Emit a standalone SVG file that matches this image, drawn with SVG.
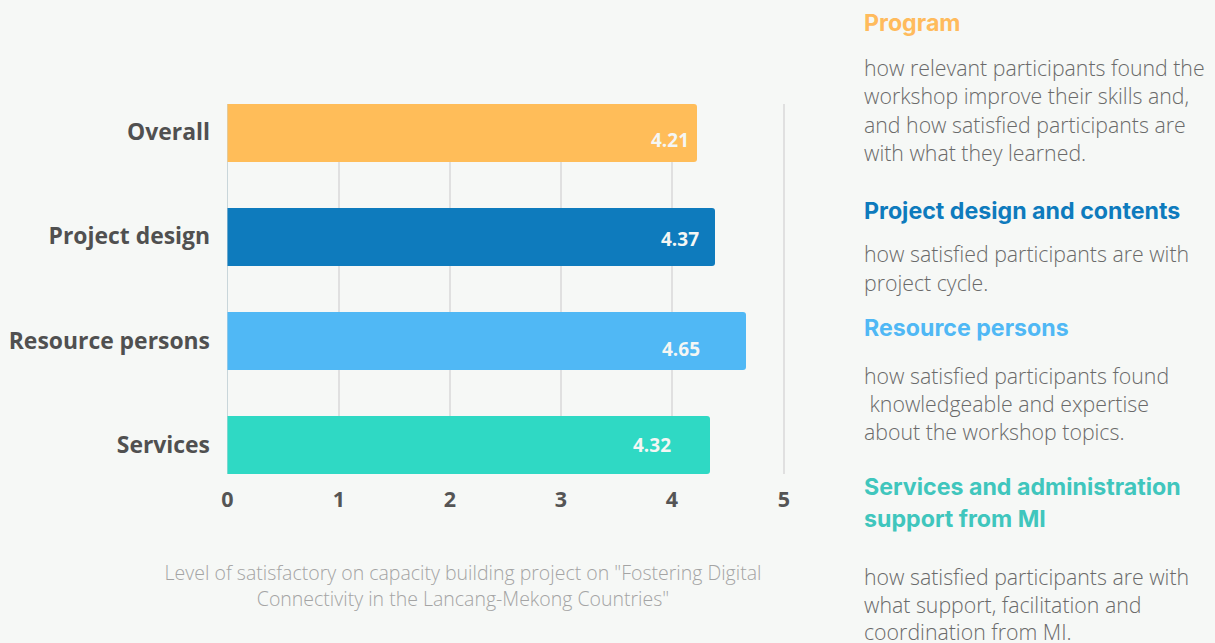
<svg xmlns="http://www.w3.org/2000/svg" width="1215" height="643" viewBox="0 0 1215 643">
<style>
.cat{font-family:"Open Sans","Liberation Sans",sans-serif;font-weight:700;font-size:22.9px;fill:#505050;text-anchor:end}
.tick{font-family:"Open Sans","Liberation Sans",sans-serif;font-weight:700;font-size:21.5px;fill:#555;text-anchor:middle}
.val{font-family:"Open Sans","Liberation Sans",sans-serif;font-weight:700;font-size:19px;fill:#f4f6f4;text-anchor:end}
.grid{stroke:#d9d9d9;stroke-width:1.5}
.head{font-family:Inter,"Liberation Sans",sans-serif;font-weight:700;font-size:23.2px}
.body{font-family:"Open Sans","Liberation Sans",sans-serif;font-weight:300;font-size:21.3px;fill:#6a6a6a}
.cap{font-family:"Open Sans","Liberation Sans",sans-serif;font-weight:300;font-size:19.5px;fill:#a4a4a4;text-anchor:middle}
</style>
<rect width="1215" height="643" fill="#f6f8f6"/>
<g id="grid">
<line class="grid" x1="339" y1="104" x2="339" y2="474"/>
<line class="grid" x1="450" y1="104" x2="450" y2="474"/>
<line class="grid" x1="561" y1="104" x2="561" y2="474"/>
<line class="grid" x1="672" y1="104" x2="672" y2="474"/>
<line class="grid" x1="784" y1="104" x2="784" y2="474"/>
<line x1="227.5" y1="104" x2="227.5" y2="474" stroke="#c9d6da" stroke-width="1"/>
</g>
<g id="bar-overall">
<path d="M227.5 104 H694 a3 3 0 0 1 3 3 V159 a3 3 0 0 1 -3 3 H227.5 Z" fill="#ffbd59"/>
<text class="cat" x="210" y="140">Overall</text>
<text class="val" x="689" y="147">4.21</text>
</g>
<g id="bar-project">
<path d="M227.5 208 H712 a3 3 0 0 1 3 3 V263 a3 3 0 0 1 -3 3 H227.5 Z" fill="#0e7bbd"/>
<text class="cat" x="210" y="244">Project design</text>
<text class="val" x="699" y="246">4.37</text>
</g>
<g id="bar-resource">
<path d="M227.5 312 H743 a3 3 0 0 1 3 3 V367 a3 3 0 0 1 -3 3 H227.5 Z" fill="#50b8f5"/>
<text class="cat" x="210" y="349">Resource persons</text>
<text class="val" x="700" y="356">4.65</text>
</g>
<g id="bar-services">
<path d="M227.5 416 H707 a3 3 0 0 1 3 3 V471 a3 3 0 0 1 -3 3 H227.5 Z" fill="#2fd9c4"/>
<text class="cat" x="210" y="453">Services</text>
<text class="val" x="671" y="452">4.32</text>
</g>
<g id="axis">
<text class="tick" x="227.5" y="507">0</text>
<text class="tick" x="339" y="507">1</text>
<text class="tick" x="450" y="507">2</text>
<text class="tick" x="561" y="507">3</text>
<text class="tick" x="672" y="507">4</text>
<text class="tick" x="784" y="507">5</text>
</g>
<g id="caption">
<text class="cap" x="463" y="580">Level of satisfactory on capacity building project on "Fostering Digital</text>
<text class="cap" x="463" y="606">Connectivity in the Lancang-Mekong Countries"</text>
</g>
<g id="legend-program">
<text class="head" x="864" y="31" fill="#ffbb5c">Program</text>
<text class="body" x="864" y="76">how relevant participants found the</text>
<text class="body" x="864" y="104">workshop improve their skills and,</text>
<text class="body" x="864" y="133">and how satisfied participants are</text>
<text class="body" x="864" y="161">with what they learned.</text>
</g>
<g id="legend-project">
<text class="head" x="864" y="219" fill="#0e7bbd">Project design and contents</text>
<text class="body" x="864" y="262">how satisfied participants are with</text>
<text class="body" x="864" y="291">project cycle.</text>
</g>
<g id="legend-resource">
<text class="head" x="864" y="336" fill="#50b8f5">Resource persons</text>
<text class="body" x="864" y="384">how satisfied participants found</text>
<text class="body" x="864" y="412" xml:space="preserve"> knowledgeable and expertise</text>
<text class="body" x="864" y="440">about the workshop topics.</text>
</g>
<g id="legend-services">
<text class="head" x="864" y="495" fill="#40c6bd">Services and administration</text>
<text class="head" x="864" y="527" fill="#40c6bd">support from MI</text>
<text class="body" x="864" y="585">how satisfied participants are with</text>
<text class="body" x="864" y="613">what support, facilitation and</text>
<text class="body" x="864" y="640">coordination from MI.</text>
</g>
</svg>
